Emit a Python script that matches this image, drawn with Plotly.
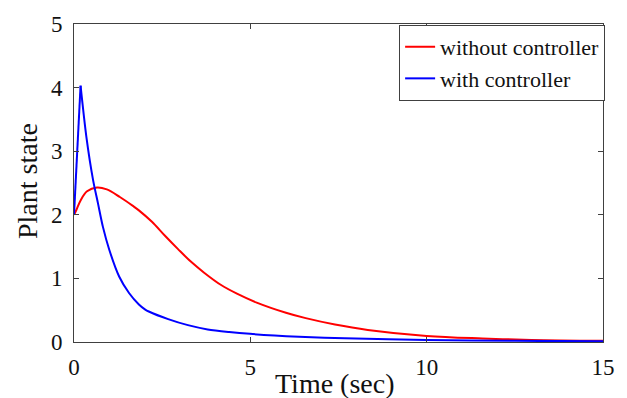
import plotly.graph_objects as go

# Data
t_without = [0, 0.07, 0.19, 0.37, 0.65, 0.93, 1.30, 1.67, 1.84, 2.21, 2.58, 2.95, 3.32, 3.69,
             4.16, 4.62, 5.18, 6.01, 6.57, 7.40, 8.33, 10.0, 11.58, 12.97, 15.0]
y_without = [2.0, 2.08, 2.23, 2.37, 2.43, 2.40, 2.28, 2.14, 2.07, 1.89, 1.67, 1.46, 1.26, 1.09,
             0.90, 0.76, 0.62, 0.46, 0.375, 0.275, 0.19, 0.095, 0.055, 0.033, 0.02]

# with controller: sharp rise to the peak, then smooth decay
t_with_rise = [0, 0.186]
y_with_rise = [2.0, 4.03]
t_with_decay = [0.186, 0.35, 0.54, 0.68, 0.82, 1.0, 1.28, 1.56, 1.84, 2.02, 2.12, 2.67,
                3.23, 3.79, 4.4, 4.99, 6.38, 7.68, 10.0, 12.5, 15.0]
y_with_decay = [4.03, 3.23, 2.55, 2.18, 1.81, 1.45, 1.03, 0.77, 0.59, 0.51, 0.48, 0.36,
                0.265, 0.198, 0.157, 0.128, 0.084, 0.058, 0.03, 0.018, 0.01]

x_ticks = [0, 5, 10, 15]
y_ticks = [0, 1, 2, 3, 4, 5]

FONT = "'Liberation Serif', 'Times New Roman', serif"
RED = "#ff0000"
BLUE = "#0000ff"

fig = go.Figure()
fig.add_trace(go.Scatter(x=t_without, y=y_without, mode="lines", name="without controller",
                         line=dict(color=RED, width=2, shape="spline", smoothing=1.0)))
fig.add_trace(go.Scatter(x=t_with_rise, y=y_with_rise, mode="lines", name="with controller",
                         legendgroup="with", showlegend=True,
                         line=dict(color=BLUE, width=2)))
fig.add_trace(go.Scatter(x=t_with_decay, y=y_with_decay, mode="lines", name="with controller",
                         legendgroup="with", showlegend=False,
                         line=dict(color=BLUE, width=2, shape="spline", smoothing=0.8)))

axis_common = dict(showgrid=False, zeroline=False, showline=True, linecolor="#404040",
                   linewidth=1, mirror="ticks", ticks="inside", ticklen=5, tickcolor="#404040",
                   tickfont=dict(family=FONT, size=23, color="#111111"))

fig.update_xaxes(range=[0, 15], tickvals=x_ticks, ticktext=[str(v) for v in x_ticks],
                 ticklabelstandoff=4, **axis_common)
fig.update_yaxes(range=[0, 5], tickvals=y_ticks, ticktext=[str(v) for v in y_ticks],
                 ticklabelstandoff=6, **axis_common)

fig.add_annotation(text="Time (sec)", xref="paper", yref="paper", x=0.4926, y=-0.129,
                   xanchor="center", yanchor="middle", showarrow=False,
                   font=dict(family=FONT, size=28, color="#111111"))
fig.add_annotation(text="Plant state", xref="paper", yref="paper", x=-0.089, y=0.506,
                   xanchor="center", yanchor="middle", showarrow=False, textangle=-90,
                   font=dict(family=FONT, size=28, color="#111111"))

fig.update_layout(
    width=627, height=398,
    margin=dict(l=74, r=14, t=24, b=56),
    font=dict(family=FONT, color="#111111"),
    plot_bgcolor="white", paper_bgcolor="white",
    legend=dict(x=1.004, y=0.997, xanchor="right", yanchor="top",
                bordercolor="#404040", borderwidth=1, bgcolor="white",
                font=dict(family=FONT, size=22, color="#111111"),
                tracegroupgap=0, itemwidth=30),
    showlegend=True,
)

fig.write_html("out.html")
